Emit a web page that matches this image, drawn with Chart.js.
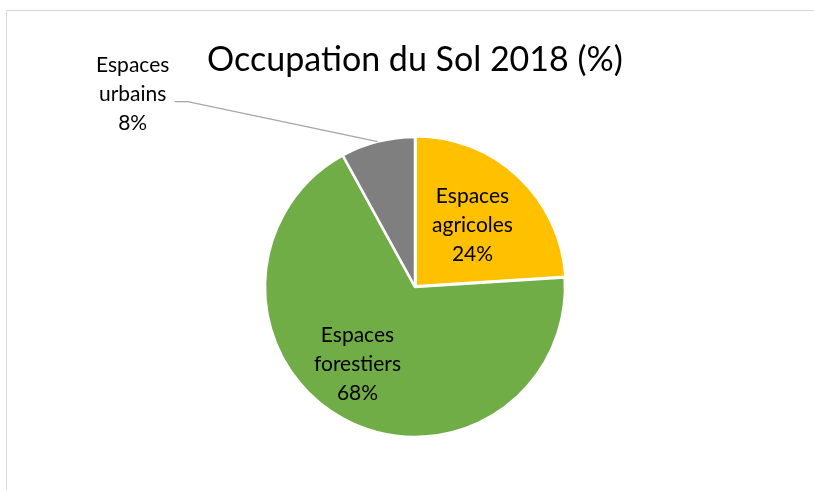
<!DOCTYPE html>
<html>
<head>
<meta charset="utf-8">
<script src="https://cdn.jsdelivr.net/npm/chart.js@4.4.1/dist/chart.umd.min.js"></script>
<style>
  html, body { margin: 0; padding: 0; background: #fff; overflow: hidden; }
  #wrap { position: relative; width: 814px; height: 490px; }
  #frame { position: absolute; left: 6px; top: 10px; width: 900px; height: 600px; border: 1px solid #d9d9d9; box-sizing: border-box; }
  canvas { position: absolute; left: 0; top: 0; }
</style>
</head>
<body>
<div id="wrap">
  <div id="frame"></div>
  <canvas id="pie" width="814" height="490"></canvas>
</div>
<script>
'use strict';

const categories = ['Espaces agricoles', 'Espaces forestiers', 'Espaces urbains'];
const labelLines = [['Espaces', 'agricoles'], ['Espaces', 'forestiers'], ['Espaces', 'urbains']];
const values = [24, 68, 8];
const sliceColors = ['#FFC000', '#70AD47', '#7F7F7F'];
const sliceOffsets = [4, 0, 0];

const FONT = 'Lato, "Open Sans", sans-serif';

// where each label sits: angle tweak (deg) and fraction of radius; urbains goes outside
const labelPlace = [
  { da: 0, f: 0.56 },
  { da: 8, f: 0.64 },
  { outside: true, dx: -245, dy: -47 }
];

const labelPlugin = {
  id: 'pieLabels',
  afterDatasetsDraw(chart) {
    const ctx = chart.ctx;
    const meta = chart.getDatasetMeta(0);
    ctx.save();
    ctx.font = '21px ' + FONT;
    ctx.fillStyle = '#000';
    ctx.textAlign = 'center';
    ctx.textBaseline = 'middle';
    const lh = 29;
    meta.data.forEach((arc, i) => {
      const p = arc.getProps(['x', 'y', 'startAngle', 'endAngle', 'outerRadius'], true);
      const mid = (p.startAngle + p.endAngle) / 2;
      const lines = labelLines[i].concat([values[i] + '%']);
      const pl = labelPlace[i];
      let cx, cy;
      if (pl.outside) {
        const ex = p.x + Math.cos(mid) * p.outerRadius;
        const ey = p.y + Math.sin(mid) * p.outerRadius;
        cx = ex + pl.dx;
        cy = ey + pl.dy;
        // leader line
        ctx.strokeStyle = '#a6a6a6';
        ctx.lineWidth = 1.3;
        ctx.beginPath();
        ctx.moveTo(cx + 42, cy + 7);
        ctx.lineTo(cx + 55, cy + 7);
        ctx.lineTo(ex, ey);
        ctx.stroke();
      } else {
        const a = mid + pl.da * Math.PI / 180;
        cx = p.x + Math.cos(a) * p.outerRadius * pl.f;
        cy = p.y + Math.sin(a) * p.outerRadius * pl.f;
      }
      lines.forEach((t, k) => {
        ctx.fillText(t, cx, cy + (k - 1) * lh);
      });
    });
    ctx.restore();
  }
};

new Chart(document.getElementById('pie'), {
  type: 'pie',
  data: {
    labels: categories,
    datasets: [{
      data: values,
      backgroundColor: sliceColors,
      borderColor: '#ffffff',
      borderWidth: 2.5,
      offset: sliceOffsets,
      radius: 150
    }]
  },
  options: {
    responsive: false,
    animation: false,
    layout: { padding: { top: 19, bottom: 53, left: 100, right: 84 } },
    plugins: {
      legend: { display: false },
      tooltip: { enabled: false },
      title: {
        display: true,
        text: 'Occupation du Sol 2018 (%)',
        color: '#000',
        font: { family: FONT, size: 34, weight: 'normal', lineHeight: 1.2 },
        padding: { top: 21, bottom: 56 }
      }
    }
  },
  plugins: [labelPlugin]
});
</script>
</body>
</html>
